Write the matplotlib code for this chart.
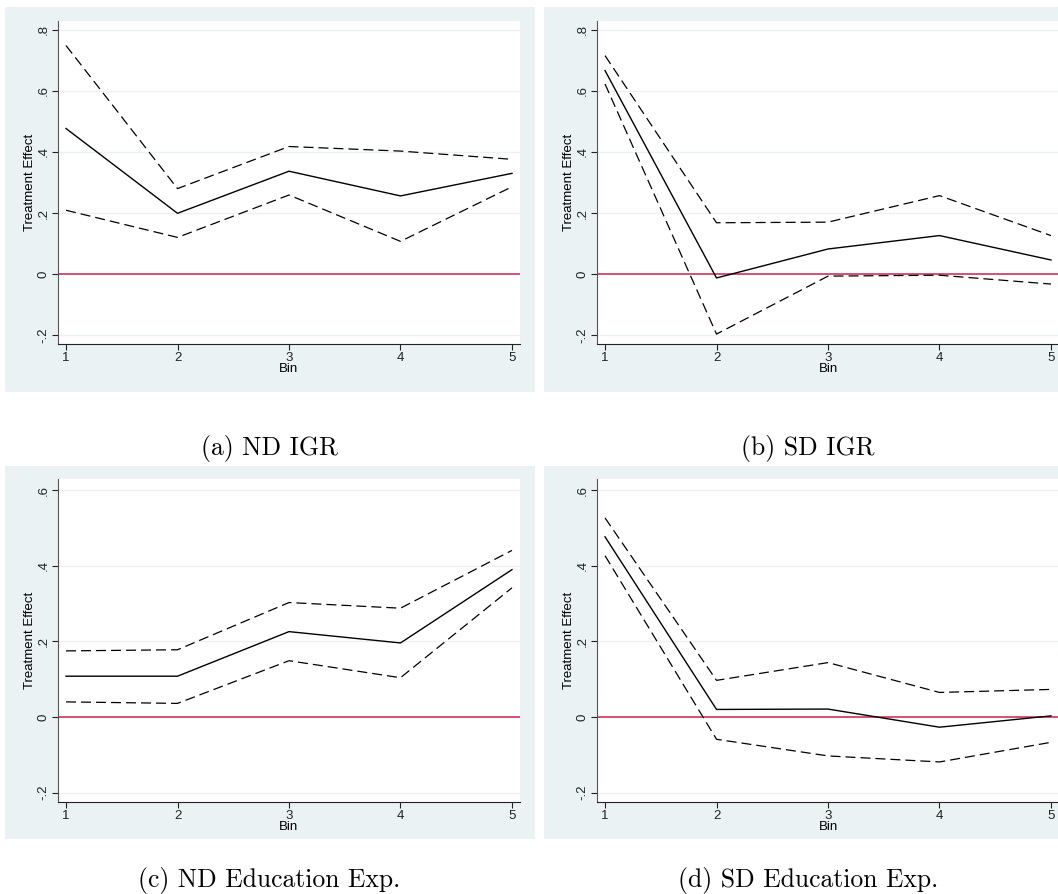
import matplotlib
matplotlib.use("Agg")
import matplotlib.pyplot as plt
from matplotlib.patches import Rectangle

bins = [1, 2, 3, 4, 5]

# (a) ND IGR
a_mid = [0.477, 0.199, 0.337, 0.256, 0.330]
a_hi = [0.749, 0.280, 0.418, 0.403, 0.376]
a_lo = [0.209, 0.120, 0.259, 0.107, 0.286]

# (b) SD IGR
b_mid = [0.667, -0.013, 0.082, 0.126, 0.046]
b_hi = [0.716, 0.168, 0.170, 0.257, 0.126]
b_lo = [0.623, -0.197, -0.007, -0.004, -0.033]

# (c) ND Education Exp.
c_mid = [0.108, 0.108, 0.226, 0.196, 0.390]
c_hi = [0.175, 0.178, 0.303, 0.288, 0.441]
c_lo = [0.040, 0.036, 0.149, 0.104, 0.342]

# (d) SD Education Exp.
d_mid = [0.477, 0.020, 0.021, -0.027, 0.003]
d_hi = [0.527, 0.097, 0.144, 0.065, 0.073]
d_lo = [0.427, -0.059, -0.103, -0.119, -0.067]

captions = ["(a) ND IGR", "(b) SD IGR", "(c) ND Education Exp.", "(d) SD Education Exp."]
yticks_top = [-0.2, 0, 0.2, 0.4, 0.6, 0.8]
yticks_bot = [-0.2, 0, 0.2, 0.4, 0.6]

W, H = 1058, 894
BG = "#eaf2f3"
RED = "#d0204f"
FS = 9.5

fig = plt.figure(figsize=(W / 100, H / 100), dpi=100)


def px(x0, y0, x1, y1):
    # pixel box (top-left origin) -> figure fraction rect
    return [x0 / W, 1 - y1 / H, (x1 - x0) / W, (y1 - y0) / H]


def fmt(v):
    if abs(v) < 1e-9:
        return "0"
    s = "%.1f" % v
    return s.replace("0.", ".")


# background panels
for (x0, y0, x1, y1) in [(5, 7, 535, 392), (544, 7, 1062, 392),
                         (5, 466, 535, 839), (544, 466, 1062, 839)]:
    r = Rectangle((x0 / W, 1 - y1 / H), (x1 - x0) / W, (y1 - y0) / H,
                  transform=fig.transFigure, facecolor=BG, edgecolor="none", zorder=-5)
    fig.patches.append(r)

panels = [
    (px(58, 21, 520, 344), a_mid, a_hi, a_lo, (-0.2295, 0.8295), yticks_top),
    (px(597, 21, 1059, 344), b_mid, b_hi, b_lo, (-0.2295, 0.8295), yticks_top),
    (px(58, 479, 520, 802), c_mid, c_hi, c_lo, (-0.225, 0.63), yticks_bot),
    (px(597, 479, 1059, 802), d_mid, d_hi, d_lo, (-0.225, 0.63), yticks_bot),
]

for rect, mid, hi, lo, ylim, yt in panels:
    ax = fig.add_axes(rect)
    ax.set_zorder(2)
    ax.set_facecolor("white")
    for y in yt:
        ax.axhline(y, color=BG, lw=1.0, zorder=0)
    ax.axhline(0, color=RED, lw=1.1, zorder=1)
    ax.plot(bins, hi, color="black", lw=0.9, ls=(0, (8, 4)), zorder=2)
    ax.plot(bins, lo, color="black", lw=0.9, ls=(0, (8, 4)), zorder=2)
    ax.plot(bins, mid, color="black", lw=1.0, zorder=3)
    ax.set_xlim(0.928, 5.072)
    ax.set_ylim(*ylim)
    ax.set_xticks(bins)
    ax.set_xticklabels([str(b) for b in bins], fontsize=FS, family="Liberation Sans")
    ax.set_yticks(yt)
    ax.set_yticklabels([fmt(v) for v in yt], fontsize=FS, family="Liberation Sans",
                       rotation=90, va="center")
    ax.spines["top"].set_visible(False)
    ax.spines["right"].set_visible(False)
    ax.spines["left"].set_color("#555555")
    ax.spines["bottom"].set_color("#222222")
    ax.tick_params(length=4, width=0.8, pad=2, colors="#222222")
    ax.set_xlabel("Bin", fontsize=FS, family="Liberation Sans", labelpad=-1)
    ax.set_ylabel("Treatment Effect", fontsize=FS, family="Liberation Sans", labelpad=1)

cap_pos = [(269, 448), (808, 448), (269, 880), (808, 880)]
for (cx, cy), cap in zip(cap_pos, captions):
    fig.text(cx / W, 1 - cy / H, cap, ha="center", va="center",
             fontsize=18.5, family="cmr10")

fig.savefig("out.png", dpi=100, facecolor="white")
